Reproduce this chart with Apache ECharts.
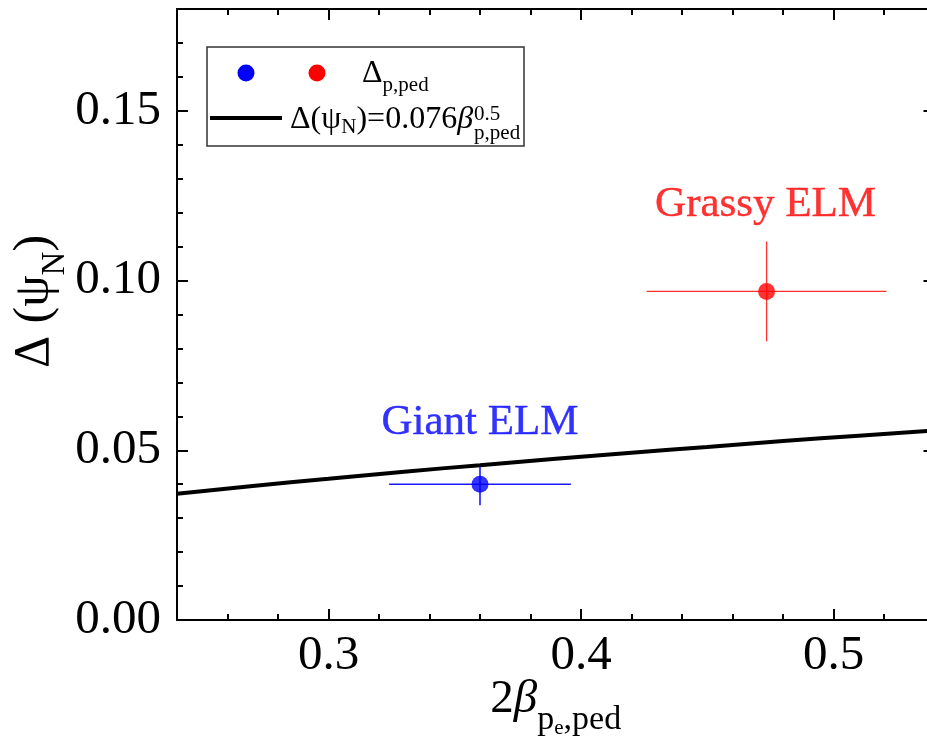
<!DOCTYPE html>
<html><head><meta charset="utf-8">
<script src="https://cdn.jsdelivr.net/npm/echarts@6/dist/echarts.min.js"></script>
<style>html,body{margin:0;padding:0;background:#fff}#c{width:927px;height:738px}</style>
</head><body><div id="c"></div>
<script>
// ---- data ----
const giantPoint = [0.360, 0.0400];
const giantXErr = [0.324, 0.396];
const giantYErr = [0.0338, 0.0452];
const grassyPoint = [0.4735, 0.0968];
const grassyXErr = [0.426, 0.521];
const grassyYErr = [0.0821, 0.1115];
const fitX = [0.24, 0.27, 0.30, 0.33, 0.36, 0.39, 0.42, 0.45, 0.48, 0.51, 0.54];
const fitY = [0.0372, 0.0395, 0.0416, 0.0437, 0.0456, 0.0475, 0.0493, 0.0510, 0.0527, 0.0543, 0.0558];
const xRange = [0.24, 0.54];
const yRange = [0, 0.18];
const xMajorStep = 0.1, xMinorStep = 0.02;
const yMajorStep = 0.05, yMinorStep = 0.01;
const labelGiant = 'Giant ELM';
const labelGrassy = 'Grassy ELM';

const FONT = "'Liberation Serif','DejaVu Serif',serif";
const gridRect = {left: 177, top: 9, width: 757.5, height: 611, outerBoundsMode: 'none', containLabel: false};
const chart = echarts.init(document.getElementById('c'), null, {renderer: 'canvas'});

function tickStyle(len) {
  return {show: true, inside: true, length: len, lineStyle: {color: '#000', width: 2}};
}
function axisBase(extra) {
  return Object.assign({
    type: 'value', scale: false,
    splitLine: {show: false},
    axisLine: {show: false, lineStyle: {color: '#000', width: 2}},
    axisTick: tickStyle(11),
    axisLabel: {show: false}
  }, extra);
}
const grids = [0, 1, 2, 3].map(() => Object.assign({}, gridRect));

const xAxes = [
  axisBase({gridIndex: 0, position: 'bottom', min: xRange[0], max: xRange[1], splitNumber: 3,
    minInterval: xMajorStep, maxInterval: xMajorStep,
    axisLine: {show: true, onZero: false, lineStyle: {color: '#000', width: 2}},
    axisLabel: {show: true, inside: false, fontFamily: FONT, fontSize: 49, color: '#000', margin: 12,
      showMinLabel: false, showMaxLabel: false, formatter: v => v.toFixed(1)},
    name: '{m|2}{b|β}{s|p}{ss|e}{s|,ped}', nameLocation: 'middle', nameGap: 56, nameMoveOverlap: false,
    nameTextStyle: {rich: {
      m: {fontFamily: FONT, fontSize: 47, color: '#000', verticalAlign: 'top', lineHeight: 48},
      b: {fontFamily: FONT, fontSize: 47, fontStyle: 'italic', color: '#000', verticalAlign: 'top', lineHeight: 48},
      s: {fontFamily: FONT, fontSize: 34, color: '#000', verticalAlign: 'top', lineHeight: 34, padding: [27, 0, 0, 0]},
      ss: {fontFamily: FONT, fontSize: 21, color: '#000', verticalAlign: 'top', lineHeight: 21, padding: [42, 0, 0, 0]}
    }}
  }),
  axisBase({gridIndex: 1, position: 'bottom', min: xRange[0], max: xRange[1], interval: xMinorStep,
    axisLine: {show: false, onZero: false}, axisTick: tickStyle(6)}),
  axisBase({gridIndex: 2, position: 'top', min: xRange[0], max: xRange[1], splitNumber: 3,
    minInterval: xMajorStep, maxInterval: xMajorStep,
    axisLine: {show: true, onZero: false, lineStyle: {color: '#000', width: 2}}}),
  axisBase({gridIndex: 3, position: 'top', min: xRange[0], max: xRange[1], interval: xMinorStep,
    axisLine: {show: false, onZero: false}, axisTick: tickStyle(6)})
];
const yAxes = [
  axisBase({gridIndex: 0, position: 'left', min: yRange[0], max: yRange[1], interval: yMajorStep,
    axisLine: {show: true, onZero: false, lineStyle: {color: '#000', width: 2}},
    axisLabel: {show: true, inside: false, fontFamily: FONT, fontSize: 49, color: '#000', margin: 16,
      showMaxLabel: false, formatter: v => v.toFixed(2)},
    name: '{m|Δ (ψ}{s|N}{m|)}', nameLocation: 'middle', nameRotate: 90, nameGap: 115, nameMoveOverlap: false,
    nameTextStyle: {padding: [0, 0, 0, 26], rich: {
      m: {fontFamily: FONT, fontSize: 50, color: '#000', verticalAlign: 'top', lineHeight: 52},
      s: {fontFamily: FONT, fontSize: 33, color: '#000', verticalAlign: 'top', lineHeight: 33, padding: [29, 0, 0, 0]}
    }}
  }),
  axisBase({gridIndex: 1, position: 'left', min: yRange[0], max: yRange[1], interval: yMinorStep,
    axisLine: {show: false, onZero: false}, axisTick: tickStyle(6)}),
  axisBase({gridIndex: 2, position: 'right', min: yRange[0], max: yRange[1], interval: yMajorStep,
    axisLine: {show: true, onZero: false, lineStyle: {color: '#000', width: 2}}}),
  axisBase({gridIndex: 3, position: 'right', min: yRange[0], max: yRange[1], interval: yMinorStep,
    axisLine: {show: false, onZero: false}, axisTick: tickStyle(6)})
];

function errorBarSeries(point, xe, ye, color, width) {
  return {
    type: 'custom', xAxisIndex: 0, yAxisIndex: 0, z: 3, silent: true,
    data: [[point[0], point[1], xe[0], xe[1], ye[0], ye[1]]],
    renderItem: function (params, api) {
      const xl = api.coord([api.value(2), api.value(1)]);
      const xr = api.coord([api.value(3), api.value(1)]);
      const yb = api.coord([api.value(0), api.value(4)]);
      const yt = api.coord([api.value(0), api.value(5)]);
      const st = {stroke: color, lineWidth: width};
      return {type: 'group', children: [
        {type: 'line', shape: {x1: xl[0], y1: xl[1], x2: xr[0], y2: xr[1]}, style: st},
        {type: 'line', shape: {x1: yb[0], y1: yb[1], x2: yt[0], y2: yt[1]}, style: st}
      ]};
    }
  };
}

// measure legend text to place stacked super/subscripts right after β
const LEG_FS = 32;
const mctx = document.createElement('canvas').getContext('2d');
mctx.font = LEG_FS + "px 'Liberation Serif'";
let w1 = mctx.measureText('Δ(ψ').width + mctx.measureText(')=0.076').width;
mctx.font = "italic " + LEG_FS + "px 'Liberation Serif'";
w1 += mctx.measureText('β').width;
mctx.font = "21px 'Liberation Serif'";
w1 += mctx.measureText('N').width;
const legTextX = 290;
const stackX = legTextX + w1 + 1;

const option = {
  animation: false,
  backgroundColor: '#fff',
  grid: grids,
  xAxis: xAxes,
  yAxis: yAxes,
  series: [
    {
      type: 'line', xAxisIndex: 0, yAxisIndex: 0, z: 2, smooth: true, showSymbol: false, symbol: 'none',
      data: fitX.map((x, i) => [x, fitY[i]]),
      lineStyle: {color: '#000', width: 4}
    },
    errorBarSeries(giantPoint, giantXErr, giantYErr, '#1a1aff', 1.6),
    errorBarSeries(grassyPoint, grassyXErr, grassyYErr, '#ff3030', 1.3),
    {
      type: 'scatter', xAxisIndex: 0, yAxisIndex: 0, z: 4, symbol: 'circle', symbolSize: 17,
      itemStyle: {color: '#0000ff'},
      data: [{value: giantPoint, label: {show: true, formatter: labelGiant, position: 'inside',
        offset: [0, -62], color: '#0000ff', textBorderColor: '#0000ff', textBorderWidth: 0.4,
        fontFamily: FONT, fontSize: 43}}]
    },
    {
      type: 'scatter', xAxisIndex: 0, yAxisIndex: 0, z: 4, symbol: 'circle', symbolSize: 17,
      itemStyle: {color: '#ff0000'},
      data: [{value: grassyPoint, label: {show: true, formatter: labelGrassy, position: 'inside',
        offset: [-1, -87], color: '#ff0000', textBorderColor: '#ff0000', textBorderWidth: 0.4,
        fontFamily: FONT, fontSize: 43}}]
    }
  ],
  graphic: [
    {type: 'rect', z: 10, shape: {x: 207, y: 47, width: 317, height: 99},
      style: {fill: '#fff', stroke: '#333', lineWidth: 1.5}},
    {type: 'circle', z: 11, shape: {cx: 246, cy: 73, r: 8.5}, style: {fill: '#0000ff'}},
    {type: 'circle', z: 11, shape: {cx: 317, cy: 73, r: 8.5}, style: {fill: '#ff0000'}},
    {type: 'text', z: 11, x: 362, y: 58, style: {
      text: '{m|Δ}{s|p,ped}', verticalAlign: 'top',
      rich: {
        m: {fontFamily: FONT, fontSize: LEG_FS, fill: '#000', verticalAlign: 'top', lineHeight: 34},
        s: {fontFamily: FONT, fontSize: 21, fill: '#000', verticalAlign: 'top', lineHeight: 21, padding: [17, 0, 0, 0]}
      }}},
    {type: 'line', z: 11, shape: {x1: 210, y1: 118, x2: 282, y2: 118}, style: {stroke: '#000', lineWidth: 4}},
    {type: 'text', z: 11, x: legTextX, y: 104, style: {
      text: '{m|Δ(ψ}{s|N}{m|)=0.076}{b|β}', verticalAlign: 'top',
      rich: {
        m: {fontFamily: FONT, fontSize: LEG_FS, fill: '#000', verticalAlign: 'top', lineHeight: 34},
        b: {fontFamily: FONT, fontSize: LEG_FS, fontStyle: 'italic', fill: '#000', verticalAlign: 'top', lineHeight: 34},
        s: {fontFamily: FONT, fontSize: 21, fill: '#000', verticalAlign: 'top', lineHeight: 21, padding: [13, 0, 0, 0]}
      }}},
    {type: 'text', z: 11, x: stackX, y: 104, style: {text: '0.5', fontFamily: FONT, fontSize: 21, fill: '#000', verticalAlign: 'top'}},
    {type: 'text', z: 11, x: stackX, y: 123, style: {text: 'p,ped', fontFamily: FONT, fontSize: 21, fill: '#000', verticalAlign: 'top'}}
  ]
};
chart.setOption(option);
</script>
</body></html>
